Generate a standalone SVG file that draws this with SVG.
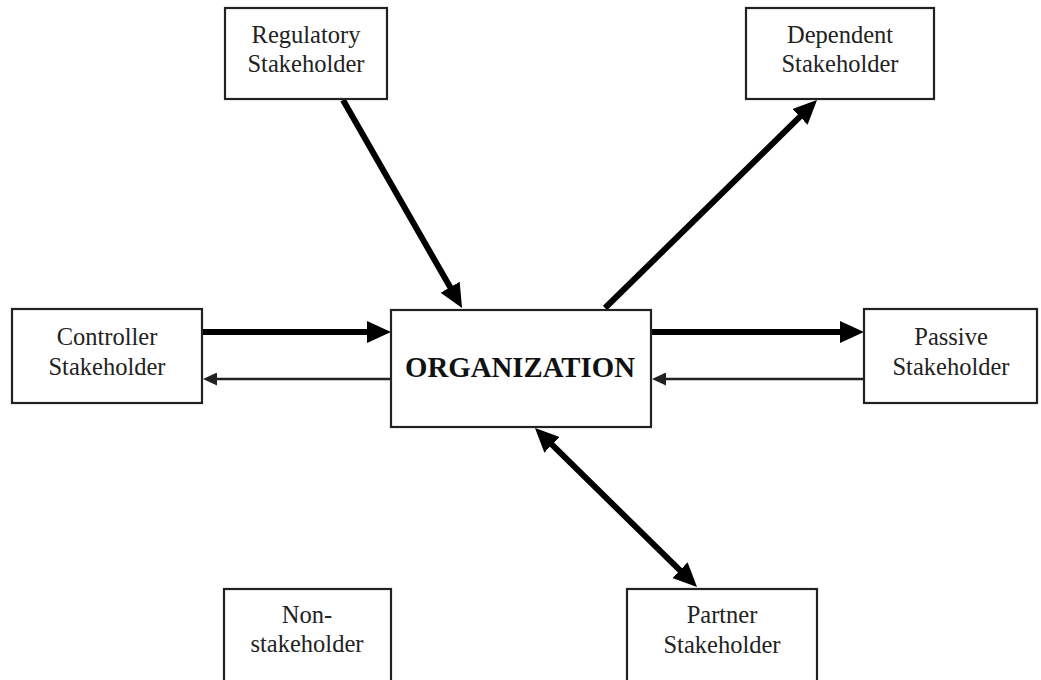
<svg xmlns="http://www.w3.org/2000/svg" width="1041" height="680" viewBox="0 0 1041 680">
<style>
.box{fill:#fff;stroke:#222;stroke-width:2.2}
.lbl{font-family:"Liberation Serif","Times New Roman",serif;font-size:24.5px;fill:#222;text-anchor:middle}
.org{font-family:"Liberation Serif","Times New Roman",serif;font-size:28.8px;font-weight:bold;fill:#111;text-anchor:middle}
.thick{stroke:#000;stroke-width:6;fill:none}
.thin{stroke:#222;stroke-width:2.5;fill:none}
</style>
<defs>
<marker id="hd" viewBox="0 0 24 22" refX="8" refY="11" markerWidth="24" markerHeight="22" markerUnits="userSpaceOnUse" orient="auto-start-reverse">
<path d="M0,0 L24,11 L0,22 z" fill="#000"/>
</marker>
<marker id="hs" viewBox="0 0 14 13" refX="4" refY="6.5" markerWidth="14" markerHeight="13" markerUnits="userSpaceOnUse" orient="auto">
<path d="M0,0 L14,6.5 L0,13 z" fill="#222"/>
</marker>
</defs>
<rect width="1041" height="680" fill="#fff"/>
<g id="connectors">
<line class="thick" x1="202" y1="332" x2="375" y2="332" marker-end="url(#hd)"/>
<line class="thin" x1="391" y1="379" x2="213" y2="379" marker-end="url(#hs)"/>
<line class="thick" x1="651" y1="332" x2="848" y2="332" marker-end="url(#hd)"/>
<line class="thin" x1="864" y1="379" x2="662" y2="379" marker-end="url(#hs)"/>
<line class="thick" x1="343" y1="100" x2="454.1" y2="294.1" marker-end="url(#hd)"/>
<line class="thick" x1="605" y1="308" x2="805.6" y2="111.2" marker-end="url(#hd)"/>
<line class="thick" x1="546.4" y1="439.2" x2="685.6" y2="575.8" marker-start="url(#hd)" marker-end="url(#hd)"/>
</g>
<g id="regulatory">
<rect class="box" x="225" y="8" width="162" height="91"/>
<text class="lbl" x="306" y="43">Regulatory</text>
<text class="lbl" x="306" y="72">Stakeholder</text>
</g>
<g id="dependent">
<rect class="box" x="746" y="8" width="188" height="91"/>
<text class="lbl" x="840" y="43">Dependent</text>
<text class="lbl" x="840" y="72">Stakeholder</text>
</g>
<g id="controller">
<rect class="box" x="12" y="309" width="190" height="94"/>
<text class="lbl" x="107" y="345">Controller</text>
<text class="lbl" x="107" y="375">Stakeholder</text>
</g>
<g id="organization">
<rect class="box" x="391" y="310" width="260" height="117"/>
<text class="org" x="520" y="377">ORGANIZATION</text>
</g>
<g id="passive">
<rect class="box" x="864" y="309" width="173" height="94"/>
<text class="lbl" x="951" y="345">Passive</text>
<text class="lbl" x="951" y="375">Stakeholder</text>
</g>
<g id="nonstakeholder">
<rect class="box" x="224" y="589" width="167" height="100"/>
<text class="lbl" x="307" y="623">Non-</text>
<text class="lbl" x="307" y="652">stakeholder</text>
</g>
<g id="partner">
<rect class="box" x="627" y="589" width="190" height="100"/>
<text class="lbl" x="722" y="623">Partner</text>
<text class="lbl" x="722" y="653">Stakeholder</text>
</g>
</svg>
